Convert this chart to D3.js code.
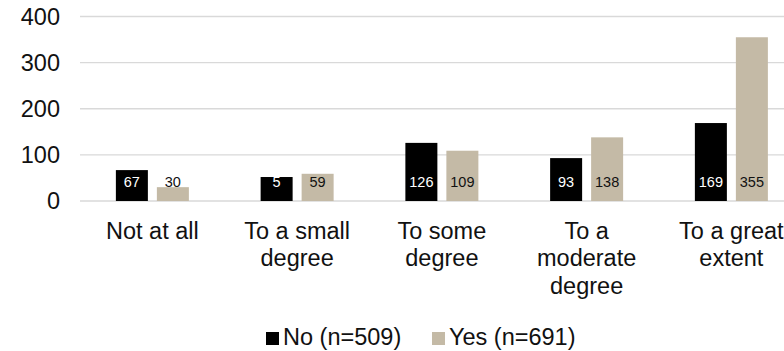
<!DOCTYPE html>
<html><head><meta charset="utf-8">
<script src="https://cdn.jsdelivr.net/npm/d3@7"></script>
<style>body{margin:0;background:#fff;overflow:hidden}svg{display:block;font-family:"Liberation Sans",Arial,sans-serif}</style>
</head><body><svg id="c" width="784" height="351"></svg>
<script>
const categories = ["Not at all", "To a small degree", "To some degree", "To a moderate degree", "To a great extent"];
const categoryLines = [["Not at all"], ["To a small", "degree"], ["To some", "degree"], ["To a", "moderate", "degree"], ["To a great", "extent"]];
const seriesNames = ["No (n=509)", "Yes (n=691)"];
const noValues = [67, 52, 126, 93, 169];
const yesValues = [30, 59, 109, 138, 355];
const noLabels = ["67", "5", "126", "93", "169"];
const yesLabels = ["30", "59", "109", "138", "355"];
const yTicks = [0, 100, 200, 300, 400];

const svg = d3.select("#c");
const colors = ["#000000", "#C4BAA6"];
const x = d3.scaleBand().domain(categories).range([80, 803.75]);
const y = d3.scaleLinear().domain([0, 400]).range([201, 16.5]);
const bigFont = 23.5;

const g = svg.append("g");
g.selectAll("line.grid").data(yTicks).join("line")
  .attr("x1", 80).attr("x2", 784).attr("y1", d => y(d)).attr("y2", d => y(d))
  .attr("stroke", "#d9d9d9").attr("stroke-width", 1.3);
g.selectAll("text.yt").data(yTicks).join("text")
  .attr("x", 60).attr("y", d => y(d)).attr("dy", "0.35em").attr("text-anchor", "end")
  .attr("font-size", bigFont).attr("fill", "#111").text(d => d);

const barW = 32, gap = 9;
const series = [noValues, yesValues];
const labels = [noLabels, yesLabels];
series.forEach((vals, si) => {
  const off = si === 0 ? -gap/2 - barW : gap/2;
  g.selectAll("rect.s" + si).data(vals).join("rect")
    .attr("x", (d, i) => x(categories[i]) + x.bandwidth()/2 + off)
    .attr("y", d => y(d)).attr("width", barW).attr("height", d => y(0) - y(d))
    .attr("fill", colors[si]);
  g.selectAll("text.l" + si).data(vals).join("text")
    .attr("x", (d, i) => x(categories[i]) + x.bandwidth()/2 + off + barW/2)
    .attr("y", y(0) - 19).attr("dy", "0.35em").attr("text-anchor", "middle")
    .attr("font-size", 14.5).attr("fill", si === 0 ? "#fff" : "#111")
    .text((d, i) => labels[si][i]);
});

categories.forEach((c, i) => {
  const t = g.append("text").attr("text-anchor", "middle").attr("font-size", bigFont).attr("fill", "#111");
  categoryLines[i].forEach((ln, k) => {
    t.append("tspan").attr("x", x(c) + x.bandwidth()/2).attr("y", 238.5 + k * 27.5).text(ln);
  });
});

const legX = [266, 432];
seriesNames.forEach((n, i) => {
  g.append("rect").attr("x", legX[i]).attr("y", 332).attr("width", 13).attr("height", 13).attr("fill", colors[i]);
  g.append("text").attr("x", legX[i] + 17).attr("y", 344.5).attr("font-size", bigFont).attr("fill", "#111").text(n);
});
</script></body></html>
